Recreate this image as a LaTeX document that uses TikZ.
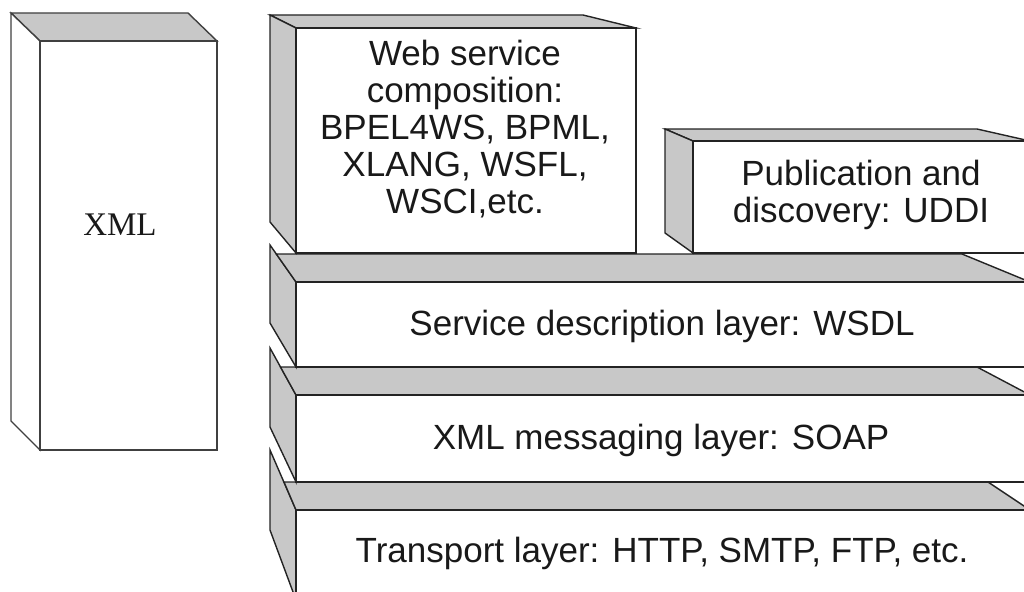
\documentclass[tikz,border=0pt]{standalone}
\usepackage{fontspec}
\setmainfont{Liberation Sans}
\newfontfamily\xmlfont{Liberation Serif}
\definecolor{facegray}{RGB}{200,200,200}
\definecolor{edgecol}{RGB}{35,35,35}
\begin{document}
\begin{tikzpicture}[x=1pt,y=-1pt,line join=miter,
  shade face/.style={draw=edgecol,line width=1.4pt,fill=facegray},
  plain face/.style={draw=edgecol,line width=1.4pt,fill=white},
  layer text/.style={font=\fontsize{35}{37}\selectfont,align=center,inner sep=0pt,text=black!90},
  xml text/.style={font=\xmlfont\fontsize{33}{36}\selectfont,inner sep=0pt,text=black!90}]
\useasboundingbox (0,0) rectangle (1024,591);
\clip (0,0) rectangle (1024,591);

% --- transport layer slab ---
\path[shade face] (270,450) -- (296,510) -- (296,600) -- (270,530) -- cycle;
\path[shade face] (284,482) -- (988,482) -- (1030,510) -- (296,510) -- cycle;
\path[plain face] (296,510) rectangle (1045,600);

% --- XML messaging layer slab ---
\path[shade face] (270,348) -- (296,395) -- (296,482) -- (270,427) -- cycle;
\path[shade face] (280.5,367) -- (977,367) -- (1030,395) -- (296,395) -- cycle;
\path[plain face] (296,395) rectangle (1045,482);

% --- service description layer slab ---
\path[shade face] (270,245) -- (296,282) -- (296,367) -- (270,323) -- cycle;
\path[shade face] (276.3,254) -- (962,254) -- (1030,282) -- (296,282) -- cycle;
\path[plain face] (296,282) rectangle (1045,367);

% --- composition block ---
\path[shade face] (270,15) -- (583,15) -- (636,28) -- (296,28) -- cycle;
\path[shade face] (270,15) -- (296,28) -- (296,253) -- (270,222) -- cycle;
\path[plain face] (296,28) rectangle (636,253);

% --- publication block ---
\path[shade face] (665,129) -- (977,129) -- (1030,141) -- (693,141) -- cycle;
\path[shade face] (665,129) -- (693,141) -- (693,253) -- (665,233) -- cycle;
\path[plain face] (693,141) rectangle (1045,253);

% --- XML column ---
\path[shade face,draw=black!75] (11,13) -- (188,13) -- (217,41) -- (40,41) -- cycle;
\path[plain face,draw=black!75] (11,13) -- (40,41) -- (40,450) -- (11,421) -- cycle;
\path[plain face,draw=black!75] (40,41) rectangle (217,450);

% --- labels ---
\node[xml text,anchor=base] (xml) at (120,235) {XML};
\node[layer text] (compose) at (465,129)
  {Web service\\composition:\\BPEL4WS, BPML,\\XLANG, WSFL,\\WSCI,etc.};
\node[layer text] (uddi) at (861,195) {Publication and\\discovery: UDDI};
\node[layer text,anchor=base] (wsdl) at (662,335) {Service description layer: WSDL};
\node[layer text,anchor=base] (soap) at (661,449) {XML messaging layer: SOAP};
\node[layer text,anchor=base] (transport) at (662,562) {Transport layer: HTTP, SMTP, FTP, etc.};
\end{tikzpicture}
\end{document}
